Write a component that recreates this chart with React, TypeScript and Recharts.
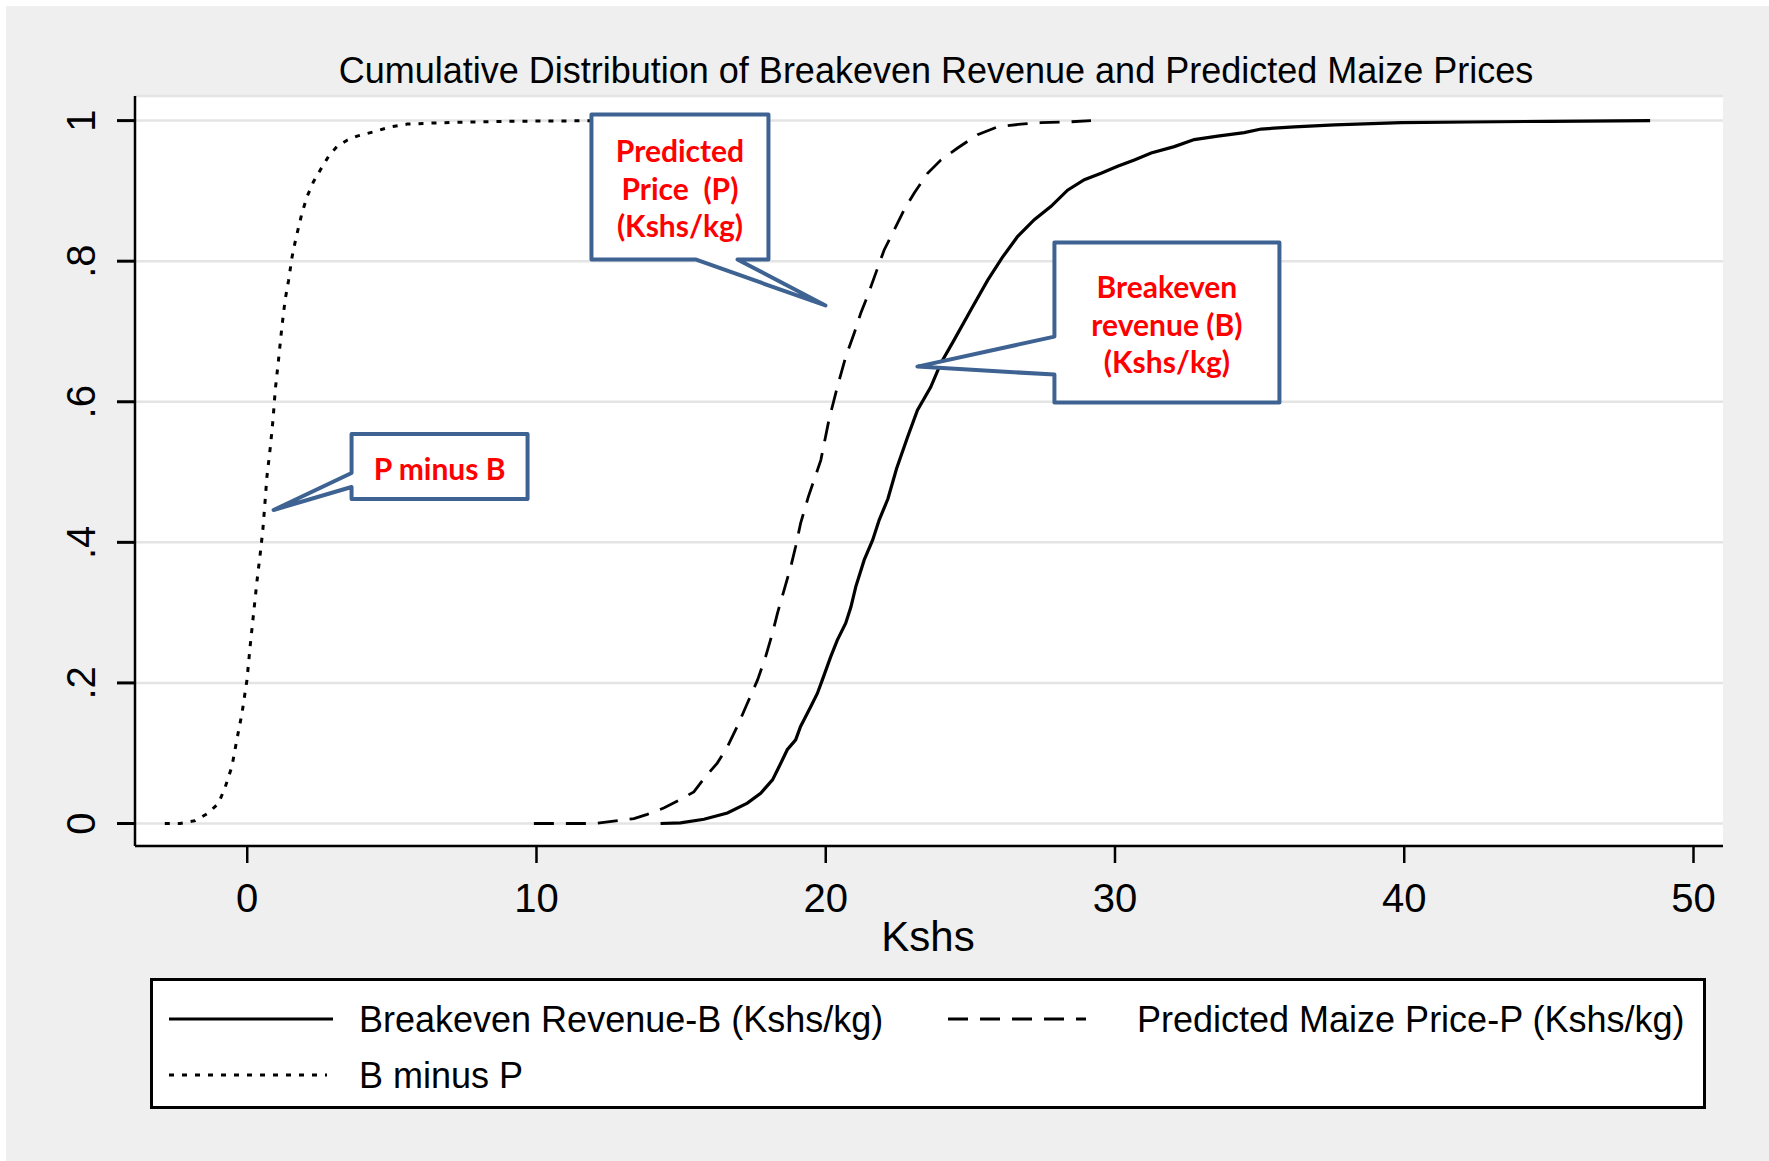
import React from 'react';
import { LineChart, Line, XAxis, YAxis, CartesianGrid, ReferenceDot } from 'recharts';

// cumulative share (0..1), one pair of arrays per series
const diffX = [-2.85, -2.32, -1.8, -1.34, -0.99, -0.76, -0.53, -0.36, -0.18, -0.01, 0.1, 0.22, 0.34, 0.45, 0.54, 0.62, 0.68, 0.8, 0.89, 0.97, 1.08, 1.2, 1.31, 1.43, 1.55, 1.65, 1.75, 1.89, 2.07, 2.29, 2.53, 2.81, 3.1, 3.45, 3.8, 4.37, 4.95, 5.53, 6.68, 9.0, 12.39];
const diffY = [0, 0, 0.004, 0.015, 0.029, 0.052, 0.081, 0.119, 0.157, 0.204, 0.252, 0.299, 0.346, 0.384, 0.418, 0.46, 0.493, 0.536, 0.574, 0.617, 0.659, 0.707, 0.745, 0.773, 0.806, 0.826, 0.844, 0.868, 0.892, 0.913, 0.93, 0.949, 0.963, 0.972, 0.978, 0.984, 0.991, 0.995, 0.997, 0.999, 1.0];

const priceX = [9.91, 12.0, 12.6, 13.37, 13.83, 14.4, 14.92, 15.44, 15.79, 16.25, 16.6, 16.94, 17.29, 17.64, 17.92, 18.16, 18.33, 18.56, 18.79, 18.96, 19.13, 19.4, 19.6, 19.83, 20.11, 20.4, 20.69, 20.98, 21.21, 21.44, 21.73, 22.02, 22.36, 22.71, 23.06, 23.52, 23.98, 24.56, 25.25, 25.94, 26.75, 27.44, 28.36, 29.17];
const priceY = [0, 0, 0.003, 0.007, 0.013, 0.022, 0.033, 0.045, 0.064, 0.086, 0.109, 0.138, 0.171, 0.204, 0.237, 0.271, 0.299, 0.332, 0.365, 0.394, 0.427, 0.465, 0.489, 0.517, 0.574, 0.621, 0.664, 0.697, 0.726, 0.75, 0.783, 0.816, 0.844, 0.873, 0.897, 0.925, 0.944, 0.961, 0.98, 0.991, 0.995, 0.997, 0.998, 1.0];

const breakevenX = [14.29, 14.98, 15.79, 16.6, 17.29, 17.75, 18.16, 18.39, 18.67, 18.96, 19.13, 19.48, 19.71, 19.88, 20.17, 20.4, 20.69, 20.87, 21.04, 21.33, 21.62, 21.85, 22.15, 22.45, 22.83, 23.17, 23.63, 23.98, 24.44, 25.02, 25.6, 26.1, 26.63, 27.21, 27.79, 28.36, 28.94, 29.52, 30.09, 30.67, 31.25, 32.05, 32.74, 33.55, 34.47, 35.05, 36.2, 37.59, 39.9, 42.2, 45.0, 48.5];
const breakevenY = [0, 0.001, 0.006, 0.015, 0.029, 0.043, 0.062, 0.081, 0.105, 0.119, 0.138, 0.166, 0.185, 0.204, 0.237, 0.261, 0.285, 0.308, 0.337, 0.375, 0.403, 0.432, 0.462, 0.505, 0.55, 0.588, 0.621, 0.655, 0.688, 0.731, 0.773, 0.805, 0.835, 0.859, 0.878, 0.901, 0.916, 0.925, 0.935, 0.944, 0.954, 0.963, 0.973, 0.978, 0.983, 0.988, 0.991, 0.994, 0.997, 0.998, 0.999, 1.0];

const xTicks = [0, 10, 20, 30, 40, 50];
const yTicks = [0, 0.2, 0.4, 0.6, 0.8, 1];
const yTickLabels = ['0', '.2', '.4', '.6', '.8', '1'];

const title = 'Cumulative Distribution of Breakeven Revenue and Predicted Maize Prices';
const xTitle = 'Kshs';
const legendLabels = ['Breakeven Revenue-B (Kshs/kg)', 'Predicted Maize Price-P (Kshs/kg)', 'B minus P'];

const zip = (xs: number[], ys: number[]) => xs.map((x, i) => ({ x, y: ys[i] }));

const FONT = '"Liberation Sans", Arial, sans-serif';
const DASH = '20 12';
const DOT = '5 8';
const BOX_BLUE = '#3E6392';

// callouts: tip in data units, box/tail as pixel offsets from the tip
type Callout = {
  tipX: number;
  tipY: number;
  box: [number, number, number, number];
  side: 'left' | 'bottom';
  base: [number, number];
  lines: string[];
};

const callouts: Callout[] = [
  { tipX: 0.91, tipY: 0.446, box: [78, -76, 254, -11], side: 'left', base: [-37, -23], lines: ['P minus B'] },
  { tipX: 19.99, tipY: 0.737, box: [-234, -191, -57, -46], side: 'bottom', base: [-130, -88], lines: ['Predicted', 'Price  (P)', '(Kshs/kg)'] },
  { tipX: 23.17, tipY: 0.65, box: [137, -124, 362, 36], side: 'left', base: [-30, 8], lines: ['Breakeven', 'revenue (B)', '(Kshs/kg)'] },
];

const renderCallout = (c: Callout) => (props: any) => {
  const { cx, cy } = props;
  if (cx == null || cy == null) return <g />;
  const x0 = cx + c.box[0];
  const y0 = cy + c.box[1];
  const x1 = cx + c.box[2];
  const y1 = cy + c.box[3];
  let pts: number[][];
  if (c.side === 'left') {
    pts = [[x0, y0], [x1, y0], [x1, y1], [x0, y1], [x0, cy + c.base[1]], [cx, cy], [x0, cy + c.base[0]]];
  } else {
    pts = [[x0, y0], [x1, y0], [x1, y1], [cx + c.base[1], y1], [cx, cy], [cx + c.base[0], y1], [x0, y1]];
  }
  const midX = (x0 + x1) / 2;
  const midY = (y0 + y1) / 2;
  const lh = 37.5;
  return (
    <g>
      <polygon
        points={pts.map((p) => p.join(',')).join(' ')}
        fill="#fff"
        stroke={BOX_BLUE}
        strokeWidth={4}
        strokeLinejoin="round"
      />
      {c.lines.map((t, i) => (
        <text
          key={i}
          x={midX}
          y={midY + (i - (c.lines.length - 1) / 2) * lh + 1}
          textAnchor="middle"
          dominantBaseline="central"
          fill="#FF0000"
          fontFamily="Lato, 'Open Sans', sans-serif"
          fontWeight={700}
          fontSize={30}
          style={{ whiteSpace: 'pre' }}
        >
          {t}
        </text>
      ))}
    </g>
  );
};

const YTick = (props: any) => {
  const { x, y, payload } = props;
  const idx = yTicks.indexOf(payload.value);
  return (
    <text
      x={x}
      y={y}
      transform={`rotate(-90, ${x}, ${y})`}
      textAnchor="middle"
      fill="#000"
      fontSize={40}
      fontFamily={FONT}
    >
      {idx >= 0 ? yTickLabels[idx] : payload.value}
    </text>
  );
};

export default function App() {
  return (
    <div style={{ position: 'absolute', left: 0, top: 0, width: 1769, height: 1161, background: '#fff', fontFamily: FONT }}>
      <div style={{ position: 'absolute', left: 6, top: 6, right: 0, bottom: 0, background: '#EFEFEF' }} />
      <div
        style={{
          position: 'absolute',
          left: 936,
          top: 53,
          transform: 'translateX(-50%)',
          whiteSpace: 'nowrap',
          fontSize: 36,
          lineHeight: '36px',
          color: '#000',
        }}
      >
        {title}
      </div>
      <div style={{ position: 'absolute', left: 0, top: 0 }}>
        <LineChart width={1769} height={1161} margin={{ top: 96, right: 46, left: 0, bottom: 255 }}>
          <CartesianGrid vertical={false} stroke="#E4E4E4" strokeWidth={2.5} fill="#fff" />
          <XAxis
            type="number"
            dataKey="x"
            domain={[-3.88, 51.02]}
            ticks={xTicks}
            allowDataOverflow
            height={60}
            tickSize={17}
            tickMargin={21}
            axisLine={{ stroke: '#000', strokeWidth: 2.5 }}
            tickLine={{ stroke: '#000', strokeWidth: 2.5 }}
            tick={{ fill: '#000', fontSize: 40, fontFamily: FONT }}
          />
          <YAxis
            type="number"
            domain={[-0.032, 1.035]}
            ticks={yTicks}
            allowDataOverflow
            width={135}
            tickSize={18}
            tickMargin={22}
            axisLine={{ stroke: '#000', strokeWidth: 2.5 }}
            tickLine={{ stroke: '#000', strokeWidth: 3 }}
            tick={<YTick />}
          />
          <Line
            data={zip(diffX, diffY)}
            dataKey="y"
            type="linear"
            stroke="#000"
            strokeWidth={3}
            strokeDasharray={DOT}
            dot={false}
            isAnimationActive={false}
          />
          <Line
            data={zip(priceX, priceY)}
            dataKey="y"
            type="linear"
            stroke="#000"
            strokeWidth={2.8}
            strokeDasharray={DASH}
            dot={false}
            isAnimationActive={false}
          />
          <Line
            data={zip(breakevenX, breakevenY)}
            dataKey="y"
            type="linear"
            stroke="#000"
            strokeWidth={3.2}
            dot={false}
            isAnimationActive={false}
          />
          {callouts.map((c, i) => (
            <ReferenceDot key={i} x={c.tipX} y={c.tipY} r={0} ifOverflow="visible" shape={renderCallout(c)} />
          ))}
        </LineChart>
      </div>
      <div
        style={{
          position: 'absolute',
          left: 928,
          top: 916,
          transform: 'translateX(-50%)',
          fontSize: 42,
          lineHeight: '42px',
          color: '#000',
        }}
      >
        {xTitle}
      </div>
      <svg
        style={{ position: 'absolute', left: 150, top: 978 }}
        width={1556}
        height={131}
      >
        <rect x={1.5} y={1.5} width={1553} height={128} fill="#fff" stroke="#000" strokeWidth={3} />
        <line x1={19} x2={183} y1={41} y2={41} stroke="#000" strokeWidth={3} />
        <text x={209} y={41} dominantBaseline="central" fontSize={36} fontFamily={FONT} fill="#000">
          {legendLabels[0]}
        </text>
        <line x1={798} x2={936} y1={41} y2={41} stroke="#000" strokeWidth={2.8} strokeDasharray={DASH} />
        <text x={987} y={41} dominantBaseline="central" fontSize={36} fontFamily={FONT} fill="#000">
          {legendLabels[1]}
        </text>
        <line x1={19} x2={177} y1={97} y2={97} stroke="#000" strokeWidth={3} strokeDasharray={DOT} />
        <text x={209} y={97} dominantBaseline="central" fontSize={36} fontFamily={FONT} fill="#000">
          {legendLabels[2]}
        </text>
      </svg>
    </div>
  );
}
